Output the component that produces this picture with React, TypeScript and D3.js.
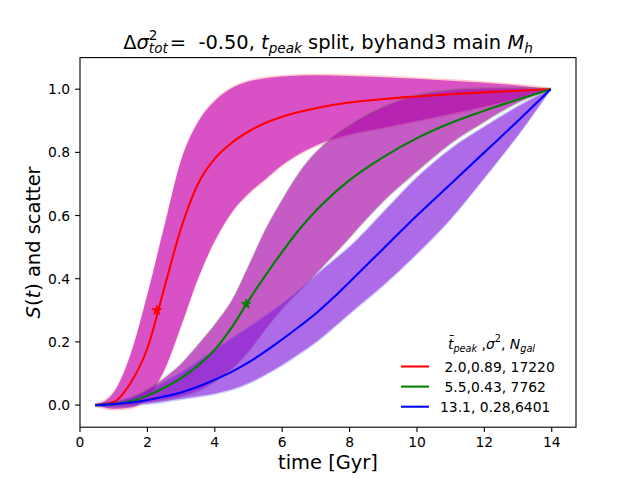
import * as d3 from 'd3'

// time grid [Gyr] and the three S(t) curves with their scatter envelopes
const time = [0.45, 1, 1.5, 2, 2.5, 3, 3.5, 4, 4.5, 5, 5.5, 6, 6.5, 7, 7.5, 8, 9, 10, 11, 12, 13, 13.97]

const redMid = [0, 0.01, 0.07, 0.18, 0.37, 0.56, 0.7, 0.78, 0.83, 0.866, 0.893, 0.913, 0.928, 0.94, 0.95, 0.958, 0.969, 0.977, 0.984, 0.99, 0.995, 1.0]
const redHi = [0, 0.04, 0.16, 0.35, 0.565, 0.775, 0.895, 0.963, 1.003, 1.024, 1.035, 1.04, 1.043, 1.044, 1.043, 1.042, 1.038, 1.033, 1.027, 1.02, 1.012, 1.0]
const redLo = [0, -0.012, -0.008, 0.025, 0.11, 0.25, 0.4, 0.52, 0.61, 0.67, 0.715, 0.76, 0.795, 0.822, 0.842, 0.857, 0.878, 0.9, 0.922, 0.945, 0.972, 1.0]

const greenMid = [0, 0.003, 0.012, 0.03, 0.055, 0.085, 0.125, 0.175, 0.245, 0.33, 0.41, 0.485, 0.555, 0.615, 0.667, 0.712, 0.785, 0.845, 0.893, 0.932, 0.967, 1.0]
const greenHi = [0, 0.005, 0.02, 0.048, 0.085, 0.13, 0.19, 0.255, 0.33, 0.44, 0.555, 0.65, 0.735, 0.8, 0.848, 0.885, 0.943, 0.98, 0.996, 1.002, 1.002, 1.0]
const greenLo = [0, 0, 0.003, 0.01, 0.018, 0.028, 0.045, 0.075, 0.115, 0.17, 0.24, 0.305, 0.36, 0.415, 0.472, 0.53, 0.645, 0.74, 0.828, 0.897, 0.958, 1.0]

const blueMid = [0, 0.003, 0.008, 0.016, 0.027, 0.04, 0.058, 0.08, 0.105, 0.135, 0.17, 0.208, 0.248, 0.29, 0.338, 0.39, 0.495, 0.6, 0.7, 0.8, 0.9, 1.0]
const blueHi = [0, 0.008, 0.02, 0.04, 0.07, 0.1, 0.135, 0.172, 0.208, 0.243, 0.28, 0.318, 0.362, 0.41, 0.455, 0.5, 0.61, 0.72, 0.81, 0.88, 0.945, 1.0]
const blueLo = [0, -0.003, 0, 0.005, 0.012, 0.02, 0.028, 0.037, 0.05, 0.07, 0.097, 0.128, 0.163, 0.2, 0.244, 0.29, 0.38, 0.48, 0.59, 0.72, 0.855, 1.0]

// star markers (t, S) on the red and green curves
const starT = [2.28, 4.93]
const starS = [0.3, 0.32]
const starColors = ['#ff0000', '#008000']

const legendLabels = [' 2.0,0.89, 17220', ' 5.5,0.43, 7762', '13.1, 0.28,6401']
const xTicks = [0, 2, 4, 6, 8, 10, 12, 14]
const yTicks = [0, 0.2, 0.4, 0.6, 0.8, 1.0]

const series = [
  { mid: redMid, lo: redLo, hi: redHi, line: '#ff0000', band: '#bf00bf' },
  { mid: greenMid, lo: greenLo, hi: greenHi, line: '#008000', band: '#bf00bf' },
  { mid: blueMid, lo: blueLo, hi: blueHi, line: '#0000ff', band: '#9a29d9' },
]

const FONT = 'DejaVu Sans'

export default function App() {
  const left = 80, right = 576, top = 57.6, bottom = 427.2
  const x = d3.scaleLinear().domain([0, 14.72]).range([left, right])
  const y = d3.scaleLinear().domain([-0.07, 1.1]).range([bottom, top])

  const area = (lo: number[], hi: number[], pad: number) =>
    d3.area<number>()
      .x((_, i) => x(time[i]))
      .y0((_, i) => y(lo[i] - pad))
      .y1((_, i) => y(hi[i] + pad))
      .curve(d3.curveMonotoneX)(time) ?? ''

  const line = (v: number[]) =>
    d3.line<number>()
      .x((_, i) => x(time[i]))
      .y((_, i) => y(v[i]))
      .curve(d3.curveMonotoneX)(time) ?? ''

  const star = d3.symbol().type(d3.symbolStar).size(30)() ?? ''

  const F = 19.44 // 14pt
  const f = 13.89 // 10pt

  return (
    <svg width={640} height={480} style={{ position: 'absolute', left: 0, top: 0, background: '#fff' }} fontFamily={FONT}>
      <rect width={640} height={480} fill="#fff" />

      {/* bands: faint line-colour rim under a stronger fill */}
      {series.map((s, i) => (
        <g key={i}>
          <path d={area(s.lo, s.hi, 0.005)} fill={s.line} fillOpacity={0.2} />
          <path d={area(s.lo, s.hi, 0)} fill={s.band} fillOpacity={0.6} />
        </g>
      ))}

      {series.map((s, i) => (
        <path key={i} d={line(s.mid)} fill="none" stroke={s.line} strokeWidth={2.08} />
      ))}

      {starT.map((t, i) => (
        <path key={i} d={star} transform={`translate(${x(t)},${y(starS[i])})`} fill={starColors[i]} stroke={starColors[i]} strokeWidth={0.8} />
      ))}

      <rect x={left} y={top} width={right - left} height={bottom - top} fill="none" stroke="#000" strokeWidth={1.1} />

      {xTicks.map(t => (
        <g key={t}>
          <line x1={x(t)} x2={x(t)} y1={bottom} y2={bottom + 4.9} stroke="#000" strokeWidth={1.1} />
          <text x={x(t)} y={446.7} fontSize={f} textAnchor="middle">{t}</text>
        </g>
      ))}
      {yTicks.map(t => (
        <g key={t}>
          <line x1={left - 4.9} x2={left} y1={y(t)} y2={y(t)} stroke="#000" strokeWidth={1.1} />
          <text x={70.2} y={y(t) + 5} fontSize={f} textAnchor="end">{t.toFixed(1)}</text>
        </g>
      ))}

      <text x={(left + right) / 2} y={469} fontSize={F} textAnchor="middle">time [Gyr]</text>
      <text transform={`translate(40,${(top + bottom) / 2}) rotate(-90)`} fontSize={F} textAnchor="middle" style={{ whiteSpace: 'pre' }}>
        <tspan fontStyle="italic">S</tspan>(<tspan fontStyle="italic">t</tspan>) and scatter
      </text>

      {/* title */}
      <text x={(left + right) / 2} y={49.3} fontSize={F} textAnchor="middle" style={{ whiteSpace: 'pre' }}>
        <tspan>Δ</tspan>
        <tspan fontStyle="italic">σ</tspan>
        <tspan fontSize={F * 0.7} dy={-9.3}>2</tspan>
        <tspan fontSize={F * 0.7} fontStyle="italic" dx={-8.66} dy={13.3}>tot</tspan>
        <tspan dx={2} dy={-4}>{'=  -0.50, '}</tspan>
        <tspan fontStyle="italic">t</tspan>
        <tspan fontSize={F * 0.7} fontStyle="italic" dy={4}>peak</tspan>
        <tspan dy={-4}>{' split, byhand3 main '}</tspan>
        <tspan fontStyle="italic">M</tspan>
        <tspan fontSize={F * 0.7} fontStyle="italic" dy={4}>h</tspan>
      </text>

      {/* legend */}
      <text x={448} y={349} fontSize={f} style={{ whiteSpace: 'pre' }}>
        <tspan fontStyle="italic">{'t\u0304'}</tspan>
        <tspan fontSize={f * 0.7} fontStyle="italic" dy={2.8}>peak</tspan>
        <tspan dy={-2.8}>{' ,'}</tspan>
        <tspan fontStyle="italic">σ</tspan>
        <tspan fontSize={f * 0.7} dy={-6.7}>2</tspan>
        <tspan dy={6.7}>{', '}</tspan>
        <tspan fontStyle="italic">N</tspan>
        <tspan fontSize={f * 0.7} fontStyle="italic" dy={2.8}>gal</tspan>
      </text>
      {legendLabels.map((lab, i) => {
        const cy = 366.5 + i * 20.1
        return (
          <g key={i}>
            <line x1={401} x2={429} y1={cy} y2={cy} stroke={series[i].line} strokeWidth={2.08} />
            <text x={440} y={cy + 5.2} fontSize={f} style={{ whiteSpace: 'pre' }}>{lab}</text>
          </g>
        )
      })}
    </svg>
  )
}
